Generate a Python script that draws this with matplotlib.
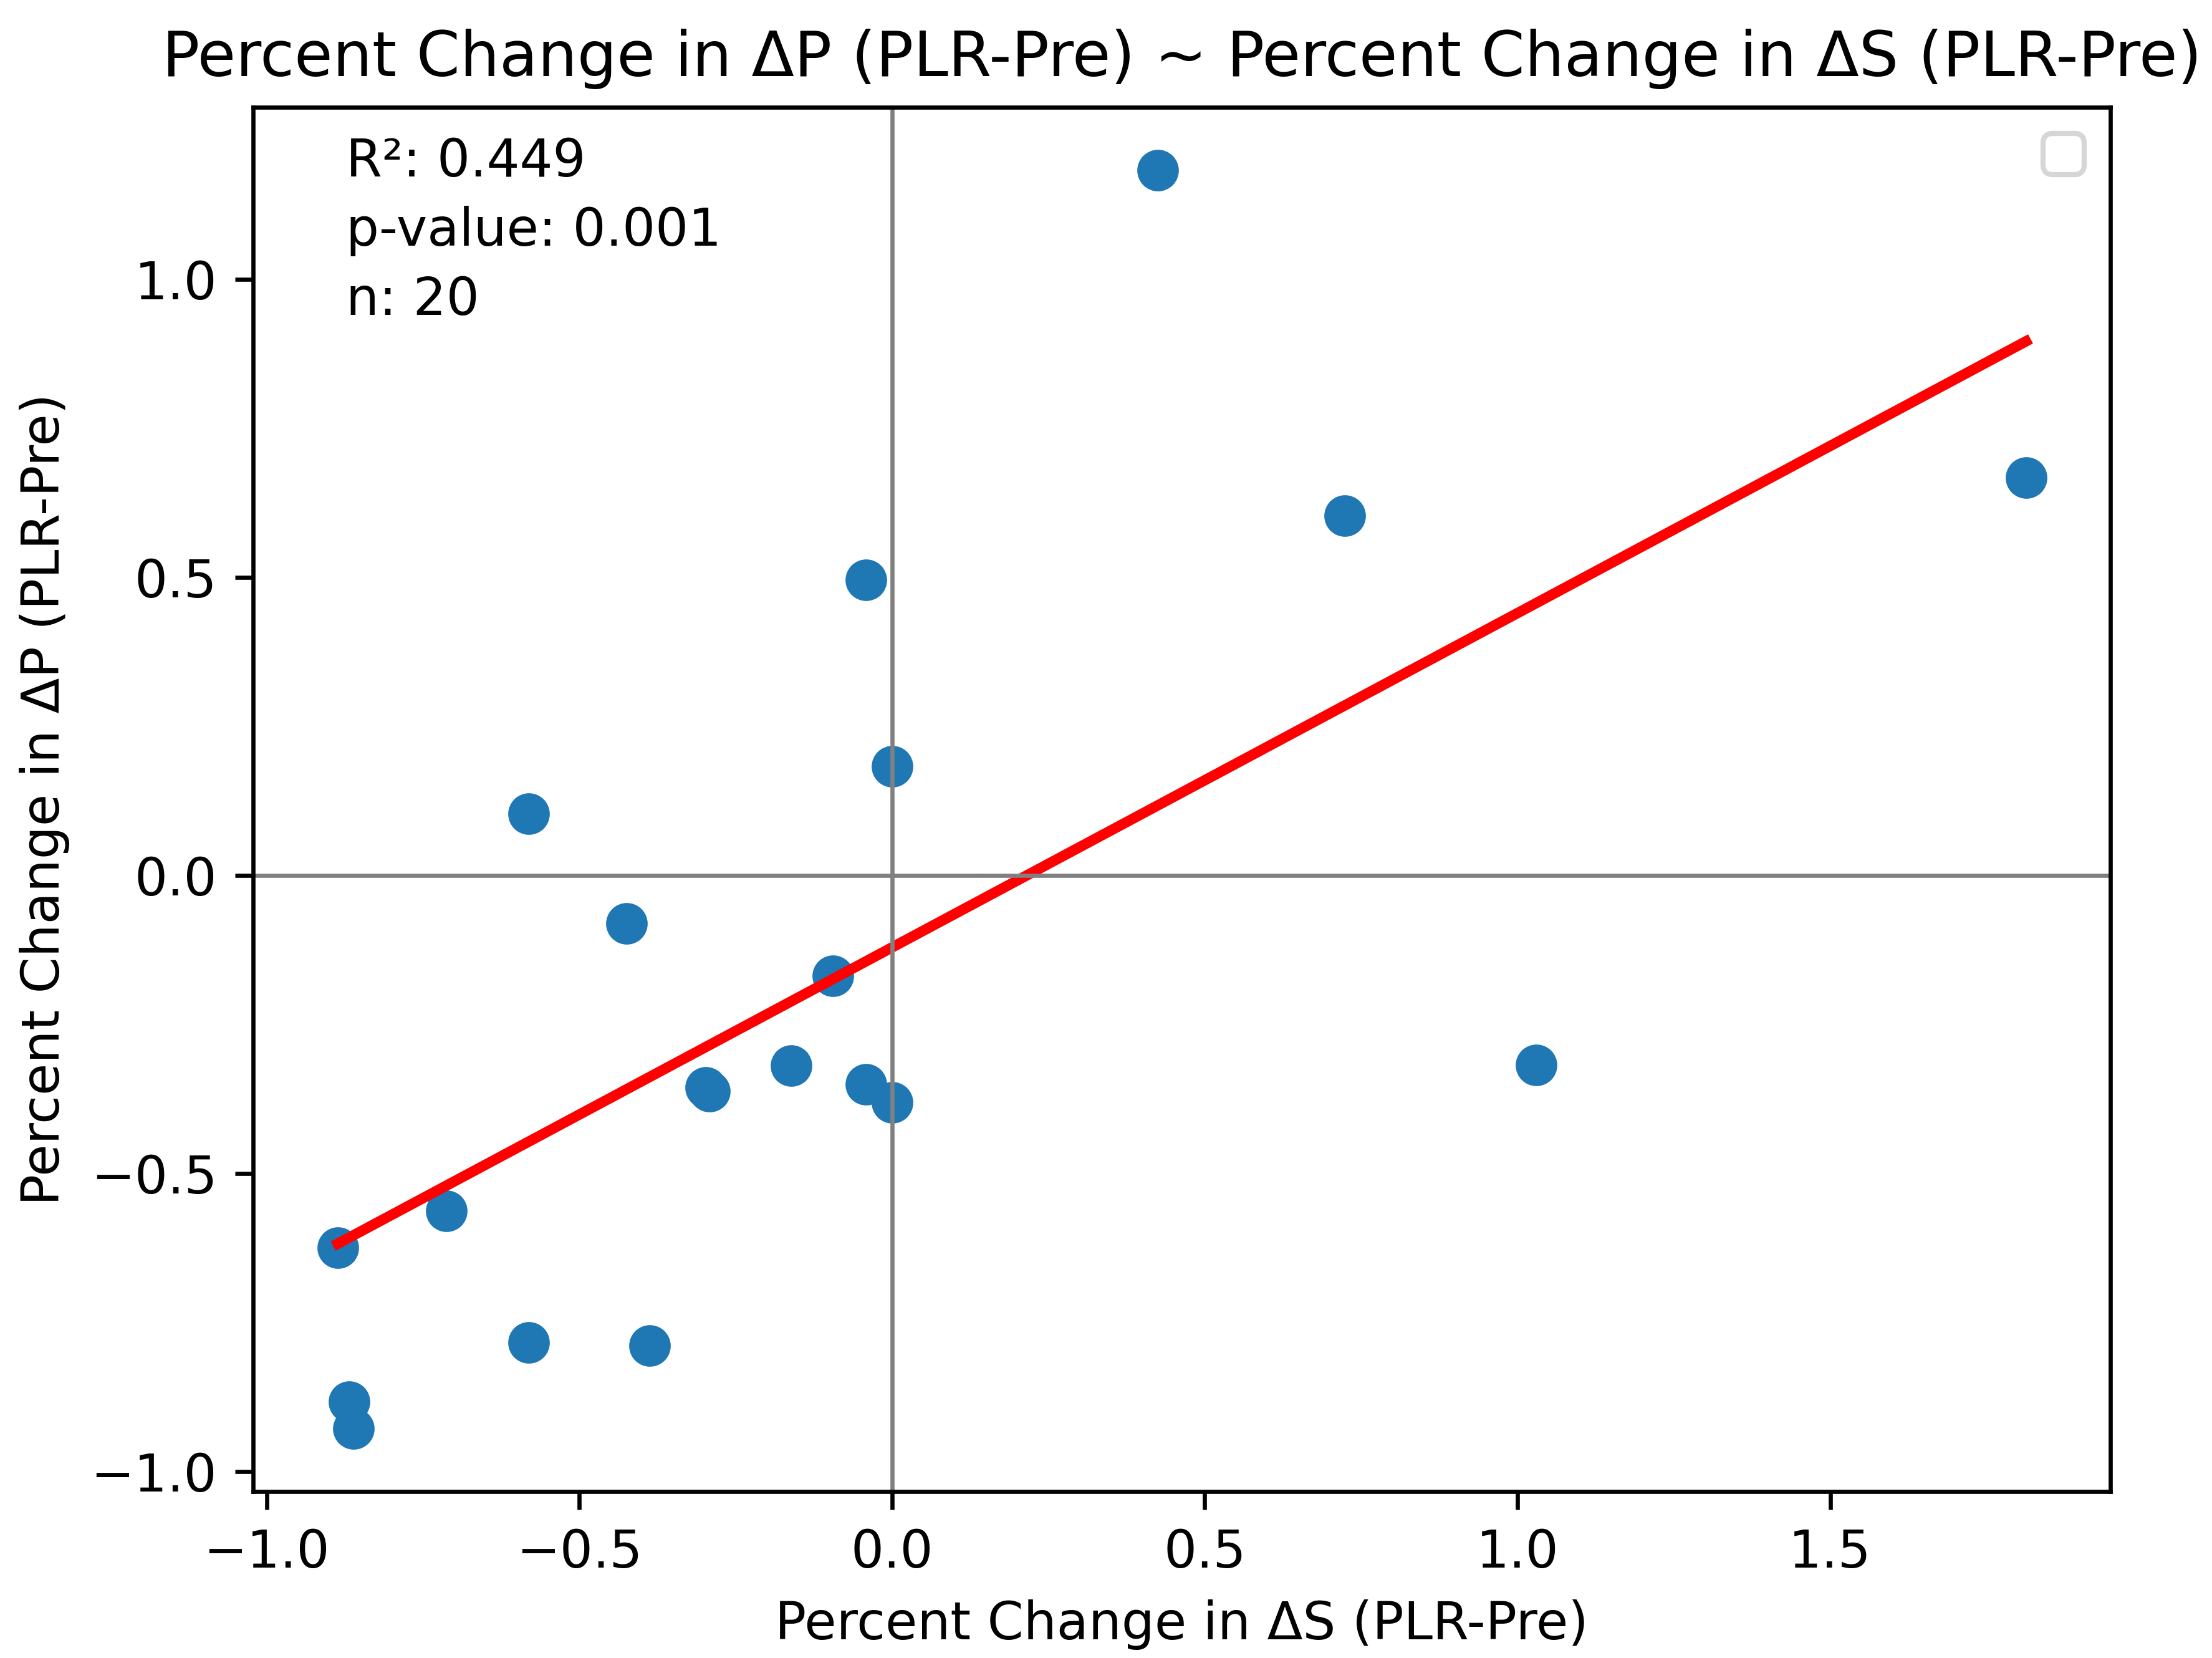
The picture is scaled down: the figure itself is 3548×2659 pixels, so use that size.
import numpy as np
import matplotlib
matplotlib.use("Agg")
import matplotlib.pyplot as plt

# ---- data ----
pct_change_dS = [0.425, 0.724, 1.813, -0.042, 0.000, -0.581, -0.424, -0.094,
                 -0.161, -0.298, -0.292, -0.042, 0.000, 1.030, -0.712, -0.886,
                 -0.581, -0.387, -0.868, -0.861]
pct_change_dP = [1.183, 0.603, 0.667, 0.496, 0.183, 0.103, -0.081, -0.168,
                 -0.319, -0.356, -0.362, -0.350, -0.381, -0.318, -0.563, -0.625,
                 -0.784, -0.789, -0.883, -0.928]
stats_labels = ["R²: 0.449", "p-value: 0.001", "n: 20"]
title_text = "Percent Change in ΔP (PLR-Pre) ~ Percent Change in ΔS (PLR-Pre)"
xlabel_text = "Percent Change in ΔS (PLR-Pre)"
ylabel_text = "Percent Change in ΔP (PLR-Pre)"

x = np.array(pct_change_dS)
y = np.array(pct_change_dP)
slope, intercept = np.polyfit(x, y, 1)
xs = np.sort(x)

DPI = 600
fig = plt.figure(figsize=(3548 / DPI, 2659 / DPI), dpi=DPI)
ax = fig.add_axes([0.11457, 0.10041, 0.83948, 0.8349])

ax.scatter(x, y, s=49, color="#1f77b4")
ax.plot(xs, intercept + slope * xs, color="red", linewidth=2)
ax.axhline(0, color="gray", linewidth=0.8)
ax.axvline(0, color="gray", linewidth=0.8)

for i, lab in enumerate(stats_labels):
    ax.text(0.05, 0.95 - 0.05 * i, lab, transform=ax.transAxes, fontsize=10)

ax.set_title(title_text)
ax.set_xlabel(xlabel_text)
ax.set_ylabel(ylabel_text)
ax.legend(handles=[], loc="upper right")

fig.savefig("out.png", dpi=DPI)
